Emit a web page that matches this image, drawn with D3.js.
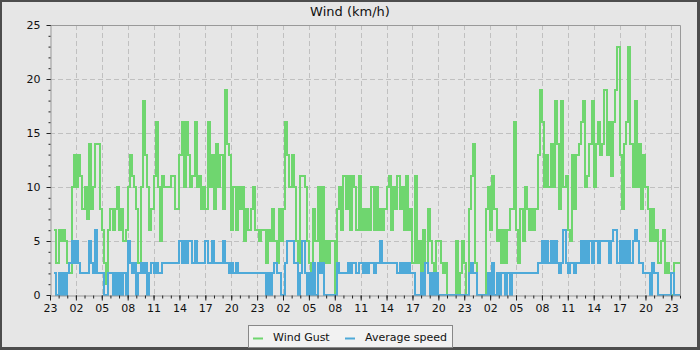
<!DOCTYPE html>
<html>
<head>
<script src="https://d3js.org/d3.v7.min.js"></script>
<style>
  body { margin: 0; background: #e6e6e6; }
  svg { display: block; font-family: "DejaVu Sans", sans-serif; }
  .grid line { stroke: #c0c0c0; stroke-dasharray: 5,3; }
  .axis .domain { stroke: #999; }
  .axis line { stroke: #222; }
  .axis text { font-size: 11px; fill: #111; font-family: "DejaVu Sans", sans-serif; }
  .series { shape-rendering: crispEdges; }
</style>
</head>
<body>
<div id="chart"></div>
<script>
// readings every 15 minutes, first slot at 23:00
const gustA = [
  null,null,6,3,6,5,6,5,3,2,
  10,13,10,13,11,8,10,7,14,8,
  10,14,14,8,6,3,1,6,8,6,
  8,10,6,8,5,6,10,13,11,10,
  8,3,10,18,13,10,6,8,11,16,
  10,5,11,10,10,10,11,11,8,8,
  13,16,10,16,13,10,11,16,10,11,
  8,10,8,16,10,13,8,14,10,13,
  8,19,14,13,6,10,6,10,8,10,
  5,8,6,8,10,6,6,5,6,6
];
const gustB = [
  3,6,5,8,5,3,8,5,8,16,
  13,10,13,10,5,3,11,11,10,5,
  3,2,8,5,10,2,10,3,5,3,
  5,5,0,8,10,6,11,8,11,6,
  11,10,6,11,6,8,6,8,6,10,
  6,10,6,8,6,8,10,11,6,10,
  8,11,8,10,6,11,6,8,3,11,
  3,5,1,6,3,8,5,3,2,5,
  5,3,2,3,0,0,0,0,5,0,
  2,5,3,0,8,11
];
const gustC = [
  14,3,0,0,0,0,8,10,6,11,
  8,5,6,3,6,3,6,8,8,16,
  6,3,8,5,10,8,6,8,6,8,
  13,19,16,10,13,10,14,10,18,14,
  8,18,10,11,6,5,13,8,13,14,
  16,18,10,11,14,18,10,14,16,13,
  14,19,13,16,11,16,19,23,13,8,
  14,16,23,14,10,18,10,14,8,13,
  10,8,5,8,5,6,3,5,6,2,
  3,2,0,3,3,3
];
const avgA = [
  null,null,2,0,2,0,2,0,2,3,
  5,3,5,3,2,2,2,2,5,3,
  2,6,2,2,2,0,0,2,2,0,
  2,0,2,0,2,0,5,3,2,3,
  0,2,3,2,3,0,2,3,2,3,
  2,2,3,3,3,3,3,3,3,3,
  5,3,5,3,5,5,3,5,3,3,
  3,3,5,3,3,5,3,3,3,3,
  5,3,3,2,3,2,3,2,2,2,
  2,2,2,2,2,2,2,2,2,2
];
const avgB = [
  0,2,0,2,3,2,2,0,0,3,
  5,5,5,3,3,0,2,5,2,0,
  2,0,3,0,3,2,3,0,0,0,
  0,0,0,3,2,2,2,2,3,2,
  3,3,2,3,3,2,3,2,3,3,
  2,3,3,5,3,3,3,3,3,3,
  3,2,3,2,3,2,3,2,2,0,
  0,0,2,0,3,2,0,2,0,2,
  0,0,0,0,0,0,0,0,0,0,
  0,0,0,0,2,3
];
const avgC = [
  2,2,0,0,0,0,0,2,0,3,
  0,2,0,2,2,0,2,0,2,2,
  2,2,2,2,2,2,2,2,2,2,
  3,3,5,3,5,3,5,3,5,3,
  2,3,6,3,2,3,3,2,3,3,
  5,3,5,3,5,3,5,5,3,5,
  5,5,5,3,5,6,6,3,5,3,
  5,3,5,3,5,6,5,3,3,2,
  2,2,0,3,2,2,0,0,0,0,
  0,0,2,0,0,0
];
const seriesNames = ["Wind Gust", "Average speed"];
const seriesColors = ["#6fd66f", "#4eaad9"];
const yTicks = [0, 5, 10, 15, 20, 25];

const W = 700, H = 350;
const plotL = 50, plotR = 680, plotT = 25, plotB = 295;

const start = new Date(2024, 0, 1, 23, 0);
const end = d3.timeHour.offset(start, 73);

const gust = gustA.concat(gustB, gustC);
const avg = avgA.concat(avgB, avgC);
const toPoints = vals => vals.map((v, i) => ({t: d3.timeMinute.offset(start, i * 15), v}));

const x = d3.scaleTime().domain([start, end]).range([plotL, plotR]);
const y = d3.scaleLinear().domain([0, 25]).range([plotB, plotT]);

const svg = d3.select("#chart").append("svg")
  .attr("width", W).attr("height", H);

// frame
svg.append("rect").attr("width", W).attr("height", H).attr("fill", "#4d4d4d");
svg.append("rect").attr("x", 2).attr("y", 2).attr("width", W - 5).attr("height", H - 5).attr("fill", "#e6e6e6");

const hours = d3.timeHour.range(start, d3.timeMinute.offset(end, 1));
const majorHours = hours.filter(d => d.getHours() % 3 === 2);

// grid
const grid = svg.append("g").attr("class", "grid");
grid.selectAll(".gx").data(majorHours.slice(1)).join("line")
  .attr("x1", d => Math.round(x(d)) + 0.5).attr("x2", d => Math.round(x(d)) + 0.5)
  .attr("y1", plotT).attr("y2", plotB);
grid.selectAll(".gy").data(yTicks.slice(1, -1)).join("line")
  .attr("x1", plotL).attr("x2", plotR)
  .attr("y1", d => Math.round(y(d)) + 0.5).attr("y2", d => Math.round(y(d)) + 0.5);

// top and right border
svg.append("path")
  .attr("d", `M${plotL},${plotT + 0.5}H${plotR + 0.5}V${plotB}`)
  .attr("fill", "none").attr("stroke", "#999");

// lines
const line = d3.line()
  .defined(d => d.v !== null)
  .x(d => x(d.t))
  .y(d => y(d.v))
  .curve(d3.curveStepAfter);

[gust, avg].forEach((vals, i) => {
  const pts = toPoints(vals);
  pts.push({t: end, v: vals[vals.length - 1]});
  svg.append("path")
    .datum(pts)
    .attr("class", "series")
    .attr("fill", "none")
    .attr("stroke", seriesColors[i])
    .attr("stroke-width", 2)
    .attr("d", line);
});

// axes
const yAxis = svg.append("g").attr("class", "axis")
  .attr("transform", `translate(${plotL + 0.5},0)`);
yAxis.call(d3.axisLeft(y).tickValues(d3.range(0, 26)).tickSize(2).tickSizeOuter(0).tickFormat(""));
yAxis.append("g").call(d3.axisLeft(y).tickValues(yTicks).tickSize(4).tickSizeOuter(0).tickPadding(6))
  .call(g => g.select(".domain").remove());

const xAxis = svg.append("g").attr("class", "axis")
  .attr("transform", `translate(0,${plotB + 0.5})`);
xAxis.call(d3.axisBottom(x).tickValues(hours).tickSize(3).tickSizeOuter(0).tickFormat(""));
xAxis.append("g").call(d3.axisBottom(x).tickValues(majorHours).tickSize(5).tickSizeOuter(0)
    .tickPadding(4).tickFormat(d3.timeFormat("%H")))
  .call(g => g.select(".domain").remove());

// title
svg.append("text")
  .attr("x", W / 2).attr("y", 16)
  .attr("text-anchor", "middle")
  .attr("font-size", 13)
  .attr("fill", "#111")
  .text("Wind (km/h)");

// legend
const legend = svg.append("g");
legend.append("rect")
  .attr("x", 248.5).attr("y", 325.5).attr("width", 204).attr("height", 22)
  .attr("fill", "#f2f2f2").attr("stroke", "#888");
const legendX = [253, 345];
seriesNames.forEach((name, i) => {
  legend.append("line")
    .attr("x1", legendX[i]).attr("x2", legendX[i] + 10)
    .attr("y1", 338.5).attr("y2", 338.5)
    .attr("stroke", seriesColors[i]).attr("stroke-width", 2);
  legend.append("text")
    .attr("x", legendX[i] + 20).attr("y", 341)
    .attr("font-size", 11).attr("fill", "#111")
    .text(name);
});
</script>
</body>
</html>
